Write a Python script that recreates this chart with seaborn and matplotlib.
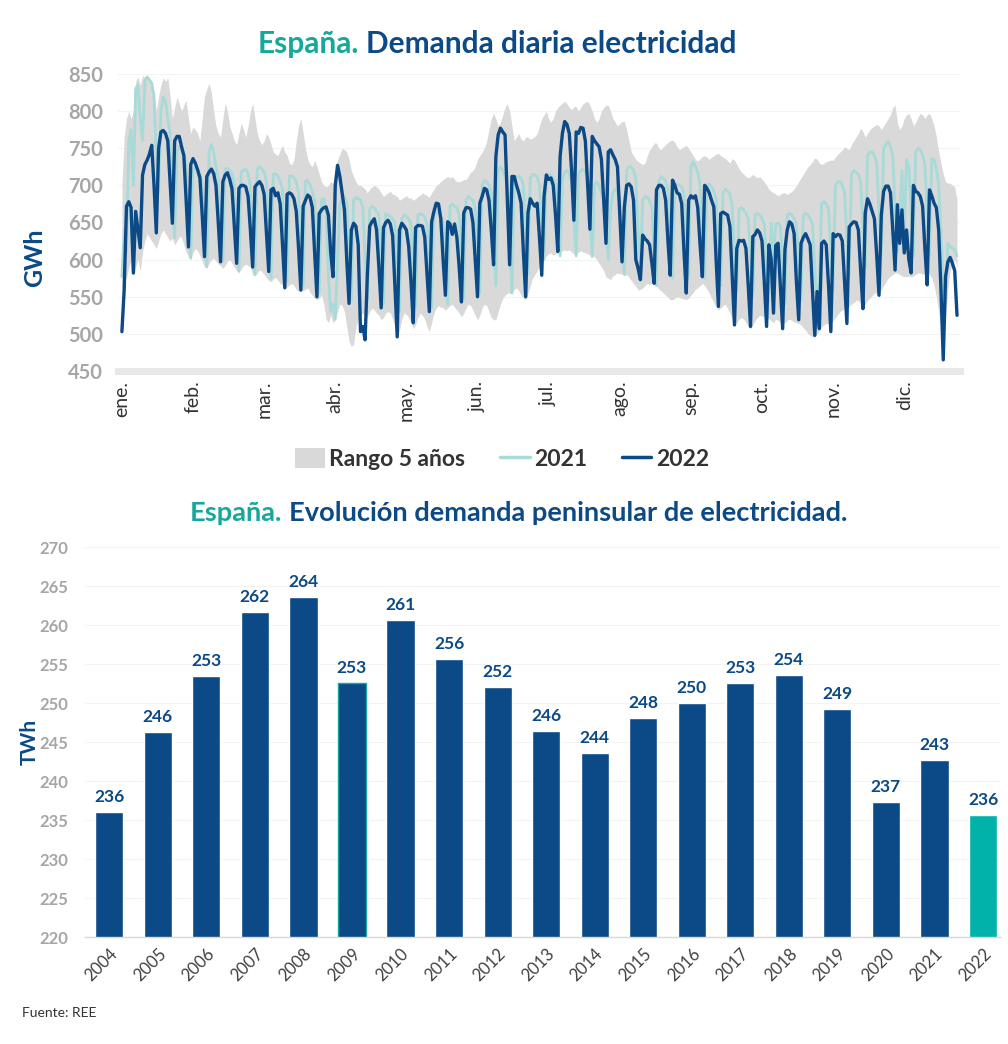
import warnings
warnings.filterwarnings("ignore")
import numpy as np
import seaborn as sns
import matplotlib
matplotlib.use("Agg")
import matplotlib.pyplot as plt
from matplotlib.patches import Patch
from matplotlib.lines import Line2D

# ---- datos: demanda diaria (GWh), índice = día del año ----
meses = ["ene.", "feb.", "mar.", "abr.", "may.", "jun.",
         "jul.", "ago.", "sep.", "oct.", "nov.", "dic."]

demanda_2022 = [
    503, 560,
    672, 678, 670, 582, 665, 640, 616,
    714, 728, 734, 742, 754, 700, 636,
    750, 772, 774, 770, 760, 705, 649,
    760, 766, 766, 752, 740, 680, 617,
    728, 736, 730, 721, 710, 660, 604,
    712, 718, 722, 716, 700, 650, 597,
    705, 714, 717, 708, 695, 645, 595,
    696, 700, 700, 698, 685, 640, 590,
    698, 702, 705, 700, 688, 635, 584,
    694, 696, 686, 690, 675, 620, 562,
    688, 690, 688, 682, 665, 615, 559,
    672, 680, 687, 684, 670, 610, 550,
    662, 667, 670, 671, 660, 610, 577,
    700, 727, 712, 690, 667, 600, 541,
    640, 649, 645, 620, 503, 510, 492,
    580, 645, 651, 655, 640, 590, 535,
    643, 650, 653, 648, 632, 565, 496,
    640, 649, 645, 640, 618, 570, 515,
    643, 646, 646, 645, 630, 580, 530,
    651, 665, 676, 675, 655, 600, 552,
    651, 648, 634, 648, 630, 590, 543,
    663, 670, 670, 668, 650, 600, 550,
    676, 685, 696, 694, 680, 640, 593,
    739, 768, 777, 772, 768, 680, 593,
    712, 712, 700, 690, 676, 610, 550,
    663, 682, 676, 672, 676, 630, 579,
    685, 714, 708, 710, 700, 660, 611,
    739, 770, 786, 782, 770, 720, 653,
    772, 770, 778, 777, 760, 700, 641,
    766, 760, 756, 752, 735, 680, 622,
    745, 748, 741, 735, 725, 660, 597,
    671, 700, 702, 698, 680, 600, 588,
    573, 633, 628, 625, 620, 595, 568,
    694, 700, 700, 696, 680, 625, 579,
    707, 700, 690, 688, 675, 610, 555,
    680, 686, 683, 686, 670, 620, 577,
    700, 696, 690, 680, 671, 600, 537,
    662, 664, 662, 660, 645, 580, 512,
    615, 626, 625, 626, 615, 565, 510,
    631, 634, 640, 636, 625, 570, 510,
    620, 600, 528, 619, 622, 565, 507,
    614, 640, 651, 648, 635, 570, 519,
    622, 630, 635, 628, 620, 560, 498,
    557, 507, 622, 625, 620, 565, 503,
    635, 631, 634, 633, 625, 570, 514,
    644, 648, 651, 650, 640, 585, 534,
    663, 682, 675, 665, 655, 605, 552,
    660, 692, 699, 699, 690, 640, 586,
    674, 622, 667, 609, 640, 600, 582,
    700, 692, 690, 685, 672, 615, 566,
    694, 686, 676, 670, 640, 560, 465,
    577, 597, 603, 595, 585, 525,
]

demanda_2021 = [
    577, 640, 610,
    760, 775, 700, 830, 835, 790, 760,
    840, 846, 842, 838, 820, 740, 690,
    800, 819, 815, 790, 770, 690, 629,
    745, 752, 750, 745, 730, 660, 602,
    720, 725, 722, 715, 705, 640, 590,
    745, 755, 745, 725, 710, 640, 598,
    722, 723, 720, 715, 700, 630, 585,
    718, 720, 722, 715, 700, 625, 580,
    722, 725, 722, 718, 705, 630, 575,
    715, 716, 712, 705, 695, 620, 570,
    712, 713, 710, 705, 690, 615, 565,
    705, 707, 700, 692, 680, 605, 555,
    680, 682, 665, 580, 530, 540, 520,
    600, 675, 682, 685, 678, 605, 545,
    680, 684, 682, 680, 670, 600, 545,
    668, 672, 670, 665, 660, 595, 540,
    662, 660, 658, 655, 650, 585, 530,
    655, 660, 658, 655, 648, 585, 535,
    660, 662, 660, 658, 648, 580, 535,
    662, 665, 662, 660, 650, 590, 540,
    672, 675, 672, 670, 660, 595, 548,
    680, 685, 682, 680, 670, 600, 555,
    700, 707, 705, 700, 690, 620, 565,
    718, 725, 720, 712, 700, 625, 555,
    705, 712, 712, 710, 700, 635, 580,
    710, 715, 714, 712, 700, 645, 600,
    712, 715, 713, 710, 700, 650, 605,
    708, 718, 720, 715, 705, 655, 605,
    715, 720, 722, 718, 708, 655, 604,
    700, 705, 700, 690, 680, 640, 600,
    667, 690, 695, 690, 680, 625, 580,
    720, 725, 725, 720, 710, 640, 595,
    680, 685, 684, 680, 670, 610, 565,
    705, 712, 710, 705, 695, 625, 575,
    700, 702, 700, 698, 688, 625, 575,
    725, 732, 725, 718, 700, 630, 575,
    700, 702, 698, 692, 682, 615, 565,
    690, 695, 692, 688, 671, 610, 560,
    668, 670, 667, 662, 655, 600, 550,
    660, 662, 660, 655, 648, 595, 545,
    650, 600, 648, 649, 645, 590, 540,
    660, 662, 660, 655, 648, 595, 545,
    660, 662, 660, 655, 648, 590, 540,
    570, 676, 678, 675, 668, 610, 560,
    700, 705, 705, 700, 690, 630, 575,
    715, 720, 718, 715, 705, 645, 590,
    740, 745, 745, 740, 730, 665, 605,
    750, 755, 759, 752, 740, 670, 610,
    650, 720, 640, 735, 725, 665, 605,
    745, 750, 748, 740, 728, 665, 605,
    736, 735, 723, 700, 640, 560, 540,
    622, 618, 615, 613, 605,
]

rango_max = [
    700, 765,
    790, 800, 790, 800, 840, 846, 835,
    848, 846, 848, 842, 838, 825, 800,
    820, 835, 845, 840, 845, 820, 790,
    805, 819, 810, 800, 808, 815, 790,
    770, 779, 775, 770, 760, 790, 820,
    830, 837, 825, 800, 780, 770, 765,
    790, 811, 800, 780, 770, 760, 755,
    770, 784, 775, 765, 780, 800, 811,
    790, 770, 760, 755, 760, 770, 765,
    755, 745, 742, 740, 748, 754, 745,
    740, 730, 728, 735, 760, 780, 790,
    770, 750, 735, 728, 725, 734, 725,
    715, 705, 700, 698, 700, 705, 703,
    720, 735, 742, 750, 748, 745, 735,
    720, 712, 705, 700, 700, 698, 695,
    690, 695, 698, 700, 698, 695, 690,
    685, 688, 690, 692, 688, 687, 685,
    680, 682, 684, 686, 683, 683, 680,
    682, 685, 687, 690, 688, 686, 684,
    690, 695, 700, 702, 705, 708, 710,
    712, 710, 712, 708, 705, 705, 706,
    708, 708, 712, 718, 720, 725, 735,
    740, 745, 750, 760, 775, 790, 797,
    790, 780, 785, 795, 805, 810, 800,
    780, 760, 765, 770, 762, 760, 765,
    765, 762, 764, 766, 770, 780, 790,
    795, 800, 790, 785, 790, 800, 805,
    808, 811, 813, 810, 805, 802, 806,
    806, 800, 805, 810, 812, 813, 808,
    800, 790, 785, 790, 800, 805, 808,
    808, 800, 790, 785, 780, 783, 786,
    786, 775, 760, 745, 740, 735, 732,
    730, 728, 730, 740, 748, 752, 757,
    757, 750, 748, 752, 755, 758, 760,
    761, 758, 752, 748, 750, 752, 754,
    750, 745, 740, 735, 733, 736, 739,
    740, 738, 735, 738, 740, 742, 743,
    740, 738, 736, 733, 730, 736, 734,
    728, 722, 718, 715, 712, 710, 712,
    715, 712, 710, 712, 708, 705, 700,
    695, 692, 690, 688, 686, 688, 690,
    690, 688, 690, 692, 695, 700, 705,
    710, 715, 720, 725, 728, 732, 737,
    735, 730, 728, 730, 732, 733, 734,
    734, 738, 742, 745, 748, 752, 750,
    748, 755, 760, 765, 770, 777, 772,
    765, 770, 775, 778, 780, 782, 780,
    775, 780, 785, 790, 795, 805, 808,
    785, 775, 780, 790, 795, 797, 790,
    780, 785, 792, 797, 795, 790, 795,
    797, 790, 780, 765, 745, 730, 715,
    705, 703, 703, 700, 698, 680,
]

rango_min = [
    560, 570,
    575, 590, 600, 578, 590, 600, 585,
    610, 625, 635, 630, 625, 620, 615,
    625, 635, 640, 635, 630, 625, 629,
    620, 625, 631, 630, 620, 610, 604,
    600, 610, 615, 612, 605, 598, 590,
    590, 595, 600, 602, 598, 594, 592,
    588, 592, 598, 600, 595, 590, 585,
    582, 588, 592, 594, 592, 590, 580,
    578, 582, 586, 584, 580, 575, 572,
    570, 574, 576, 572, 568, 566, 563,
    563, 566, 568, 565, 560, 557, 560,
    558, 560, 562, 556, 552, 548, 546,
    548, 552, 540, 520, 515, 525, 515,
    519, 530, 540, 538, 530, 510, 490,
    483, 486, 510, 520, 525, 528, 523,
    523, 530, 535, 532, 528, 525, 519,
    522, 528, 530, 528, 520, 510, 496,
    505, 520, 528, 526, 522, 515, 507,
    512, 522, 528, 525, 520, 510, 503,
    515, 528, 535, 538, 536, 535, 532,
    535, 538, 540, 536, 532, 528, 523,
    528, 535, 540, 538, 532, 525, 519,
    525, 535, 540, 538, 530, 522, 519,
    519, 530, 540, 548, 552, 555, 555,
    555, 560, 562, 558, 552, 548, 546,
    555, 565, 575, 580, 585, 590, 595,
    600, 605, 608, 609, 606, 608, 609,
    610, 612, 613, 612, 613, 610, 608,
    608, 610, 612, 610, 609, 608, 606,
    606, 604, 600, 595, 590, 585, 577,
    575, 573, 578, 580, 582, 581, 581,
    578, 580, 576, 572, 568, 564, 559,
    560, 562, 565, 568, 566, 568, 568,
    565, 560, 558, 555, 552, 549, 546,
    546, 548, 550, 549, 548, 547, 546,
    548, 552, 556, 560, 562, 565, 568,
    565, 560, 555, 548, 542, 536, 532,
    535, 538, 540, 534, 528, 520, 512,
    515, 520, 522, 520, 515, 510, 507,
    512, 518, 522, 525, 524, 523, 523,
    520, 518, 515, 520, 518, 516, 514,
    515, 518, 520, 518, 516, 515, 514,
    512, 508, 505, 500, 498, 496, 496,
    500, 505, 510, 512, 514, 514, 514,
    518, 522, 526, 530, 532, 535, 537,
    537, 540, 542, 545, 545, 540, 537,
    540, 545, 548, 552, 555, 555, 555,
    560, 565, 570, 575, 578, 580, 582,
    582, 580, 578, 577, 577, 578, 577,
    578, 580, 582, 582, 580, 582, 582,
    580, 575, 565, 550, 530, 510, 500,
    520, 560, 585, 595, 600, 590,
]

# ---- datos: demanda peninsular anual (TWh) ----
anios = ["2004", "2005", "2006", "2007", "2008", "2009", "2010", "2011", "2012", "2013",
         "2014", "2015", "2016", "2017", "2018", "2019", "2020", "2021", "2022"]
demanda_anual = [236.0, 246.3, 253.4, 261.7, 263.6, 252.6, 260.6, 255.6, 252.1, 246.4,
                 243.6, 248.1, 250.0, 252.6, 253.6, 249.2, 237.3, 242.7, 235.6]

AZUL = "#0b4a86"
TEAL = "#16a89c"
GRIS_TXT = "#a6a6a6"

sns.set_theme(style="white")
plt.rcParams["font.family"] = ["Lato", "DejaVu Sans"]

W, H = 1008, 1044
fig = plt.figure(figsize=(W / 100, H / 100), dpi=100)

# ================= gráfico diario =================
ax1 = fig.add_axes([118 / W, 1 - 371 / H, 842 / W, 297 / H])
dias = np.arange(len(demanda_2022))
ax1.fill_between(dias, rango_min, rango_max, color="#d9d9d9", lw=0, zorder=1)
sns.lineplot(x=dias, y=demanda_2021, ax=ax1, color="#a8dad7", lw=2.0, zorder=2)
sns.lineplot(x=dias, y=demanda_2022, ax=ax1, color=AZUL, lw=2.4, zorder=3)

ax1.set_xlim(-1.7, 365.3)
ax1.set_ylim(450, 850)
ax1.set_yticks(range(450, 851, 50))
ax1.set_xticks([31 * i for i in range(12)])
ax1.set_xticklabels(meses, rotation=90)
ax1.tick_params(axis="x", length=0, pad=7, labelsize=14, labelcolor="#333333")
ax1.tick_params(axis="y", length=0, pad=11, labelsize=14.5, labelcolor=GRIS_TXT)
for t in ax1.get_yticklabels():
    t.set_fontweight("bold")
ax1.grid(axis="y", color="#f4f4f4", lw=0.8)
ax1.grid(axis="x", visible=False)
ax1.set_axisbelow(True)
for s in ["top", "right", "left"]:
    ax1.spines[s].set_visible(False)
ax1.spines["bottom"].set_color("#e8e8e8")
ax1.spines["bottom"].set_linewidth(5)
ax1.set_xlabel("")
ax1.set_ylabel("")

fig.text(35 / W, 1 - 258 / H, "GWh", rotation=90, ha="center", va="center",
         fontsize=18, fontweight="bold", color=AZUL)

t1 = fig.text(258 / W, 1 - 44 / H, "España.", ha="left", va="center",
              fontsize=21.5, fontweight="bold", color=TEAL)
ax1.annotate("Demanda diaria electricidad", xy=(1, 0), xycoords=t1,
             xytext=(5, 0), textcoords="offset points", va="bottom", ha="left",
             fontsize=21.5, fontweight="bold", color=AZUL, annotation_clip=False)

handles = [Patch(facecolor="#d9d9d9", edgecolor="none"),
           Line2D([], [], color="#a8dad7", lw=2.5),
           Line2D([], [], color=AZUL, lw=2.5)]
fig.legend(handles, ["Rango 5 años", "2021", "2022"], loc="center",
           bbox_to_anchor=(502 / W, 1 - 459 / H), ncol=3, frameon=False,
           prop={"weight": "bold", "size": 16.5}, labelcolor="#333333",
           handlelength=1.3, handleheight=1.0, handletextpad=0.2, columnspacing=1.5)

# ================= gráfico anual =================
ax2 = fig.add_axes([85 / W, 1 - 937 / H, 915 / W, 390 / H])
colores = [AZUL] * (len(anios) - 1) + ["#00b2a9"]
sns.barplot(x=anios, y=demanda_anual, hue=anios, palette=colores, legend=False,
            width=0.58, saturation=1, ax=ax2, zorder=2)
ax2.patches[5].set_edgecolor("#16a89c")
ax2.patches[5].set_linewidth(1.0)

for i, v in enumerate(demanda_anual):
    ax2.text(i, v + 0.9, f"{round(v)}", ha="center", va="bottom",
             fontsize=12.5, fontweight="bold", color=AZUL)

ax2.set_ylim(220, 270)
ax2.set_xlim(-0.5, 18.35)
ax2.set_yticks(range(220, 271, 5))
ax2.tick_params(axis="y", length=0, pad=12, labelsize=12, labelcolor=GRIS_TXT)
for t in ax2.get_yticklabels():
    t.set_fontweight("bold")
ax2.tick_params(axis="x", length=0, pad=6, labelsize=12, labelcolor="#404040")
for t in ax2.get_xticklabels():
    t.set_rotation(45)
    t.set_ha("right")
    t.set_rotation_mode("anchor")
ax2.grid(axis="y", color="#f3f3f3", lw=0.8)
ax2.grid(axis="x", visible=False)
ax2.set_axisbelow(True)
for s in ["top", "right", "left"]:
    ax2.spines[s].set_visible(False)
ax2.spines["bottom"].set_color("#d9d9d9")
ax2.spines["bottom"].set_linewidth(1)
ax2.set_xlabel("")
ax2.set_ylabel("")

fig.text(30 / W, 1 - 742 / H, "TWh", rotation=90, ha="center", va="center",
         fontsize=15, fontweight="bold", color=AZUL)

t2 = fig.text(190 / W, 1 - 513 / H, "España.", ha="left", va="center",
              fontsize=19.6, fontweight="bold", color=TEAL)
ax2.annotate("Evolución demanda peninsular de electricidad.", xy=(1, 0), xycoords=t2,
             xytext=(5, 0), textcoords="offset points", va="bottom", ha="left",
             fontsize=19.6, fontweight="bold", color=AZUL, annotation_clip=False)

fig.text(22 / W, 1 - 1013 / H, "Fuente: REE", ha="left", va="center",
         fontsize=10, color="#333333")

fig.savefig("out.png", dpi=100)
